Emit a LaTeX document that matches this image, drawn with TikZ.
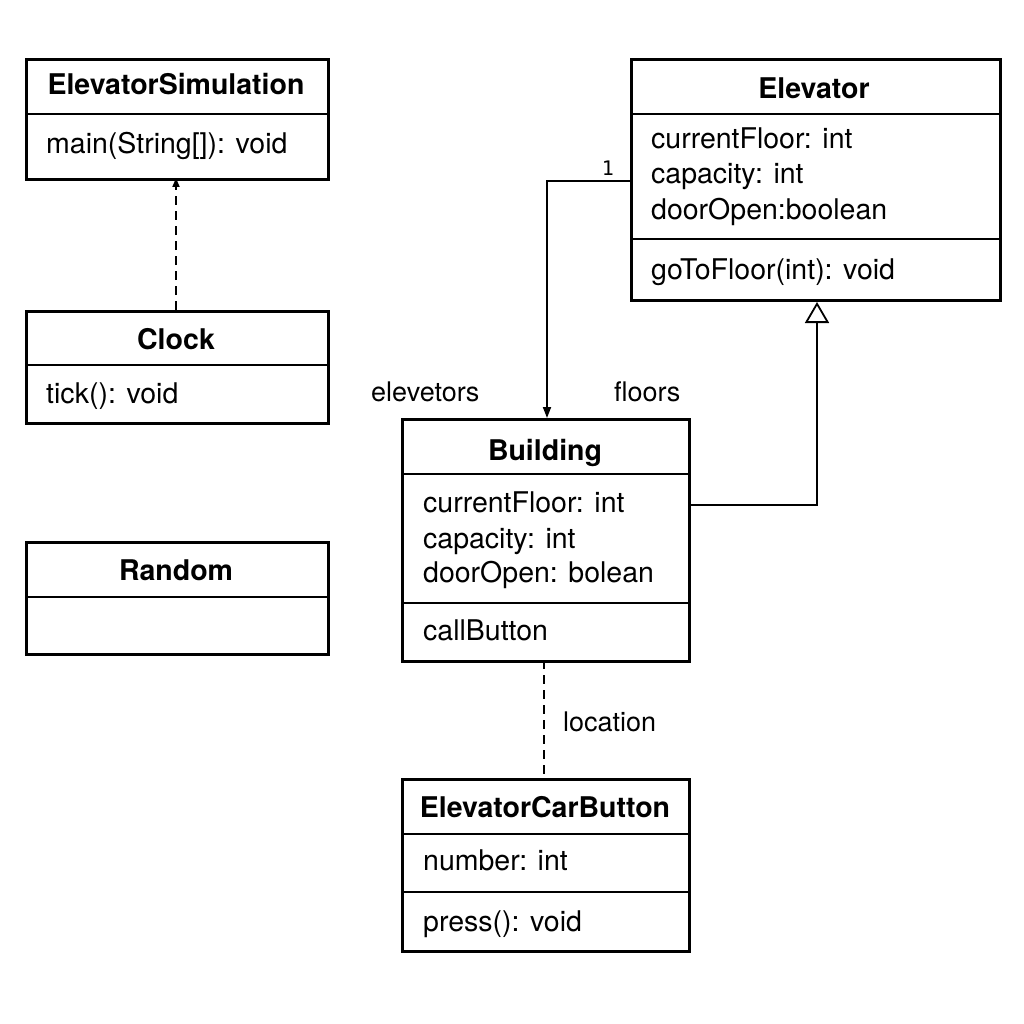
\documentclass[tikz,border=0pt]{standalone}
\usepackage{fontspec}
\setmainfont{TeX Gyre Heros}
\setmonofont{DejaVu Sans Mono}
\usetikzlibrary{arrows.meta}
\begin{document}
\begin{tikzpicture}[x=1pt,y=-1pt,
  box/.style={draw,line width=2.6pt,rectangle,inner sep=0pt,anchor=north west},
  sep/.style={line width=2.4pt},
  title/.style={font=\fontsize{28.5}{34}\selectfont\bfseries,anchor=base,inner sep=0pt},
  attr/.style={font=\fontsize{28.5}{34}\selectfont,anchor=base west,inner sep=0pt},
  lbl/.style={font=\fontsize{27}{32}\selectfont,anchor=base west,inner sep=0pt},
  conn/.style={line width=1.8pt},
  dsh/.style={line width=1.8pt,dash pattern=on 9pt off 6pt}]
\useasboundingbox (0,0) rectangle (1024,1024);
\fill[white] (0,0) rectangle (1024,1024);
% ElevatorSimulation
\node[box,minimum width=302pt,minimum height=120pt] (es) at (25,58) {};
\draw[sep] (25,114) -- (327,114);
\node[title] (esT) at (176,95) {ElevatorSimulation};
\node[attr] (esA) at (46,154) {main(String[]): void};
% Clock
\node[box,minimum width=302pt,minimum height=112pt] (ck) at (25,310) {};
\draw[sep] (25,365) -- (327,365);
\node[title] (ckT) at (176,349) {Clock};
\node[attr] (ckA) at (46,403) {tick(): void};
% Random
\node[box,minimum width=302pt,minimum height=112pt] (rd) at (25,541) {};
\draw[sep] (25,597) -- (327,597);
\node[title] (rdT) at (176,580) {Random};
% Elevator
\node[box,minimum width=369pt,minimum height=241pt] (el) at (630,58) {};
\draw[sep] (630,114) -- (999,114);
\draw[sep] (630,239) -- (999,239);
\node[title] (elT) at (814,99) {Elevator};
\node[attr] (elA1) at (651,149) {currentFloor: int};
\node[attr] (elA2) at (651,184) {capacity: int};
\node[attr] (elA3) at (651,219) {doorOpen:boolean};
\node[attr] (elM) at (651,279) {goToFloor(int): void};
% Building
\node[box,minimum width=287pt,minimum height=242pt] (bd) at (401,418) {};
\draw[sep] (401,474) -- (688,474);
\draw[sep] (401,603) -- (688,603);
\node[title] (bdT) at (545,460) {Building};
\node[attr] (bdA1) at (423,512) {currentFloor: int};
\node[attr] (bdA2) at (423,548) {capacity: int};
\node[attr] (bdA3) at (423,582) {doorOpen: bolean};
\node[attr] (bdM) at (423,640) {callButton};
% ElevatorCarButton
\node[box,minimum width=287pt,minimum height=172pt] (cb) at (401,778) {};
\draw[sep] (401,834) -- (688,834);
\draw[sep] (401,892) -- (688,892);
\node[title] (cbT) at (545,817) {ElevatorCarButton};
\node[attr] (cbA) at (423,870) {number: int};
\node[attr] (cbM) at (423,931) {press(): void};
% connectors
\coordinate (esIn) at (176,178);
\coordinate (ckOut) at (176,310);
\draw[dsh,-{Triangle[width=7pt,length=9pt]}] (ckOut) -- (esIn);
\coordinate (elL) at (630,181);
\coordinate (bnd1) at (547,181);
\coordinate (bdTop) at (547,418);
\draw[conn,-{Triangle[width=8pt,length=11pt]}] (elL) -- (bnd1) -- (bdTop);
\node[font=\ttfamily\fontsize{20}{22}\selectfont,anchor=base,inner sep=0pt] (one) at (608,176) {1};
\coordinate (bdR) at (688,505);
\coordinate (bnd2) at (817,505);
\coordinate (elB) at (817,302);
\draw[conn,-{Triangle[open,width=24pt,length=21pt,line width=1.8pt]}] (bdR) -- (bnd2) -- (elB);
\coordinate (bdB) at (544,660);
\coordinate (cbTop) at (544,778);
\draw[dsh] (bdB) -- (cbTop);
\node[lbl] (lElv) at (371,401) {elevetors};
\node[lbl] (lFl) at (614,401) {floors};
\node[lbl] (lLoc) at (563,731) {location};
\end{tikzpicture}
\end{document}
